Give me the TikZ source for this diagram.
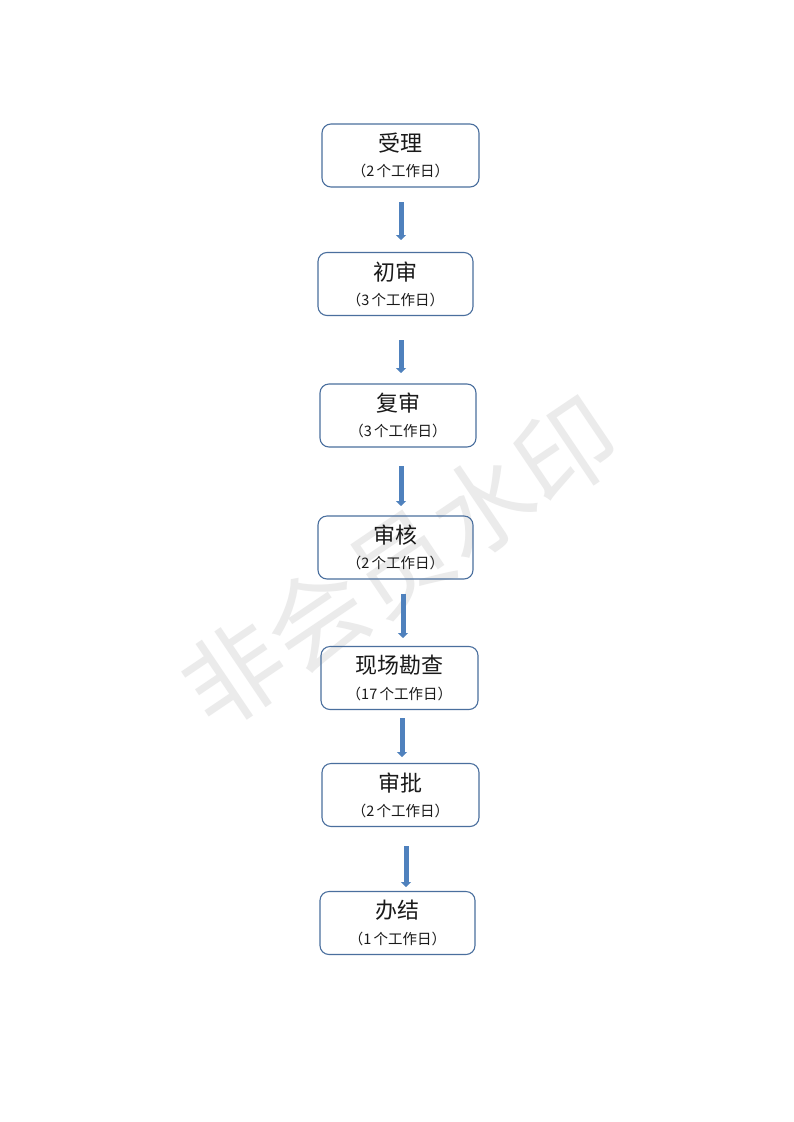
\documentclass[tikz,border=0pt]{standalone}
\usepackage{fontspec}
\setmainfont{Noto Sans CJK SC}
\newfontfamily\cjk{Noto Sans CJK SC}
\usetikzlibrary{arrows.meta}
\definecolor{boxline}{HTML}{4A6F9E}
\definecolor{arrowfill}{HTML}{4F81BD}
\definecolor{wm}{HTML}{EBEBEB}
\definecolor{txt}{HTML}{1A1A1A}
\newcommand{\stepcontent}[2]{{\fontsize{22}{24}\selectfont #1}\\[10pt]{\fontsize{14.5}{15}\selectfont （#2\,个工作日）}}
\begin{document}
\begin{tikzpicture}[x=1pt,y=-1pt,
  stepbox/.style={draw=boxline, line width=1.1pt, rounded corners=9pt, minimum height=63pt, align=center, inner sep=0pt, text=txt},
  flowarrow/.style={draw=arrowfill, line width=5pt, -{Triangle[length=5pt,width=10pt]}}]
\useasboundingbox (0,0) rectangle (793,1122);
\fill[white] (0,0) rectangle (793,1122);
% watermark
\node[rotate=34, text=wm, font=\cjk\fontsize{100}{100}\selectfont, inner sep=0pt] (wmark) at (400,562) {非会员水印};
% boxes
\node[stepbox, minimum width=157pt] (b1) at (400.5,155.5) {\stepcontent{受理}{2}};
\node[stepbox, minimum width=155pt] (b2) at (395.5,284) {\stepcontent{初审}{3}};
\node[stepbox, minimum width=156pt] (b3) at (398,415.5) {\stepcontent{复审}{3}};
\node[stepbox, minimum width=155pt] (b4) at (395.5,547.5) {\stepcontent{审核}{2}};
\node[stepbox, minimum width=157pt] (b5) at (399.5,678) {\stepcontent{现场勘查}{17}};
\node[stepbox, minimum width=157pt] (b6) at (400.5,795) {\stepcontent{审批}{2}};
\node[stepbox, minimum width=155pt] (b7) at (397.5,923) {\stepcontent{办结}{1}};
% arrow ends
\coordinate (a1s) at (401,202); \coordinate (a1e) at (401,240);
\coordinate (a2s) at (401,340); \coordinate (a2e) at (401,373);
\coordinate (a3s) at (401,466); \coordinate (a3e) at (401,506);
\coordinate (a4s) at (403,594); \coordinate (a4e) at (403,638);
\coordinate (a5s) at (402,718); \coordinate (a5e) at (402,757);
\coordinate (a6s) at (406,846); \coordinate (a6e) at (406,887);
\foreach \i in {1,...,6} \draw[flowarrow] (a\i s) -- (a\i e);
\end{tikzpicture}
\end{document}
